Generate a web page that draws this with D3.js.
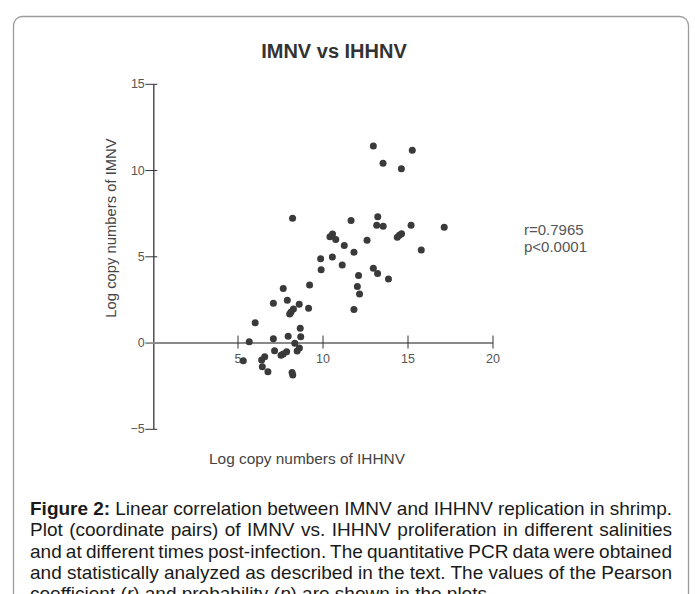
<!DOCTYPE html>
<html>
<head>
<meta charset="utf-8">
<script src="https://cdn.jsdelivr.net/npm/d3@7"></script>
<style>
  html, body { margin: 0; padding: 0; background: #fff; }
  body { width: 695px; height: 594px; overflow: hidden; position: relative; font-family: "Liberation Sans", Arial, sans-serif; }
  svg { position: absolute; left: 0; top: 0; }
  #caption { position: absolute; left: 30px; top: 498px; width: 642px; font-size: 19px; line-height: 21.3px; color: #1a1a1a; }
  #caption .ln { white-space: nowrap; display: block; }
  #caption .ln span.inner { display: inline-block; }
</style>
</head>
<body>
<svg id="chart" width="695" height="594"></svg>
<div id="caption"></div>
<script>
// ---- data ----
const ihhnv = [12.99, 15.28, 13.56, 14.64, 8.24, 13.25, 11.68, 13.19, 13.57, 15.21,
               17.16, 14.40, 14.52, 14.65, 12.62, 11.28, 15.81, 10.44, 10.59, 10.78,
               11.85, 9.89, 10.58, 11.16, 9.92, 12.99, 13.24, 13.88, 12.12, 12.05,
               12.18, 9.24, 7.69, 7.11, 7.93, 8.63, 8.29, 8.15, 8.07, 9.18,
               11.85, 6.04, 8.69, 8.72, 7.98, 7.11, 5.69, 8.37, 7.18, 8.64,
               8.51, 7.89, 7.69, 7.56, 6.60, 6.42, 5.34, 6.46, 6.79, 8.21, 8.25];
const imnv = [11.40, 11.15, 10.39, 10.08, 7.21, 7.30, 7.08, 6.80, 6.74, 6.80,
              6.68, 6.10, 6.22, 6.31, 5.93, 5.62, 5.37, 6.14, 6.30, 5.98,
              5.23, 4.86, 4.96, 4.50, 4.22, 4.31, 4.01, 3.69, 3.88, 3.25,
              2.82, 3.34, 3.14, 2.28, 2.45, 2.22, 1.95, 1.77, 1.65, 1.99,
              1.92, 1.15, 0.83, 0.34, 0.37, 0.22, 0.05, -0.04, -0.48, -0.32,
              -0.49, -0.53, -0.67, -0.74, -0.83, -1.01, -1.05, -1.41, -1.69, -1.73, -1.88];
const xTicks = [5, 10, 15, 20];
const yTicks = [-5, 0, 5, 10, 15];
const xDomain = [0, 20];
const yDomain = [-5, 15];
const titleText = "IMNV vs IHHNV";
const xLabel = "Log copy numbers of IHHNV";
const yLabel = "Log copy numbers of IMNV";
const statLines = ["r=0.7965", "p<0.0001"];
const captionLines = [
  [{b: "Figure 2:"}, {t: " Linear correlation between IMNV and IHHNV replication in shrimp."}],
  [{t: "Plot (coordinate pairs) of IMNV vs. IHHNV proliferation in different salinities"}],
  [{t: "and at different times post-infection. The quantitative PCR data were obtained"}],
  [{t: "and statistically analyzed as described in the text. The values of the Pearson"}],
  [{t: "coefficient ("}, {i: "r"}, {t: ") and probability ("}, {i: "p"}, {t: ") are shown in the plots."}]
];

// ---- drawing ----
const svg = d3.select("#chart");

// card frame
svg.append("rect")
  .attr("x", 13.5).attr("y", 16.5)
  .attr("width", 675).attr("height", 640)
  .attr("rx", 9).attr("ry", 9)
  .attr("fill", "none").attr("stroke", "#9a9a9a").attr("stroke-width", 1.3);

const x = d3.scaleLinear().domain(xDomain).range([152.5, 492.5]);
const y = d3.scaleLinear().domain(yDomain).range([428.8, 83.8]);

// title
svg.append("text")
  .attr("x", 334).attr("y", 57.5)
  .attr("text-anchor", "middle")
  .attr("font-family", "Liberation Sans, Arial, sans-serif")
  .attr("font-weight", "bold").attr("font-size", 20)
  .attr("fill", "#333")
  .text(titleText);

// y axis
const yAxis = svg.append("g")
  .attr("transform", `translate(${x(0) + 0.8},0)`)
  .call(d3.axisLeft(y).tickValues(yTicks).tickSize(8).tickSizeOuter(0).tickPadding(1));
yAxis.select(".domain").attr("stroke", "#444").attr("stroke-width", 1.4);
yAxis.selectAll(".tick line").attr("stroke", "#333").attr("x2", -8).attr("x1", 4).attr("stroke-width", 1);
yAxis.selectAll(".tick text")
  .attr("font-family", "Liberation Sans, Arial, sans-serif")
  .attr("font-size", 12.5).attr("fill", "#555").attr("x", -8.5);

// x axis at y = 0
const xAxis = svg.append("g")
  .attr("transform", `translate(0,${y(0)})`)
  .call(d3.axisBottom(x).tickValues(xTicks).tickSize(6).tickSizeOuter(0));
xAxis.select(".domain").attr("stroke", "#8a8a8a").attr("stroke-width", 2);
xAxis.selectAll(".tick line").attr("stroke", "#333").attr("y1", -7).attr("y2", 6).attr("stroke-width", 1);
xAxis.selectAll(".tick text")
  .attr("font-family", "Liberation Sans, Arial, sans-serif")
  .attr("font-size", 12.5).attr("fill", "#555")
  .attr("y", 20).attr("dy", 0);

// points
svg.append("g").selectAll("circle")
  .data(ihhnv.map((v, i) => [v, imnv[i]]))
  .join("circle")
  .attr("cx", d => x(d[0]))
  .attr("cy", d => y(d[1]))
  .attr("r", 3.5)
  .attr("fill", "#3a3a3a");

// axis labels
svg.append("text")
  .attr("x", 307).attr("y", 464)
  .attr("text-anchor", "middle")
  .attr("font-family", "Liberation Sans, Arial, sans-serif")
  .attr("font-size", 15.4).attr("fill", "#444")
  .text(xLabel);

svg.append("text")
  .attr("transform", "translate(115.5,228) rotate(-90)")
  .attr("text-anchor", "middle")
  .attr("font-family", "Liberation Sans, Arial, sans-serif")
  .attr("font-size", 14.8).attr("fill", "#444")
  .text(yLabel);

// stats annotation
svg.append("g").selectAll("text")
  .data(statLines)
  .join("text")
  .attr("x", 524).attr("y", (d, i) => 235 + i * 16.5)
  .attr("font-family", "Liberation Sans, Arial, sans-serif")
  .attr("font-size", 15).attr("fill", "#555")
  .text(d => d);

// caption (justified lines)
const cap = d3.select("#caption");
captionLines.forEach((parts, li) => {
  const line = cap.append("div").attr("class", "ln");
  const inner = line.append("span").attr("class", "inner");
  parts.forEach(p => {
    if (p.b) inner.append("b").text(p.b);
    else if (p.i) inner.append("i").text(p.i);
    else inner.append("span").text(p.t);
  });
  if (li < captionLines.length - 1) {
    const w = inner.node().getBoundingClientRect().width;
    const text = inner.node().textContent;
    const spaces = (text.match(/ /g) || []).length;
    if (spaces > 0) inner.style("word-spacing", ((642 - w) / spaces) + "px");
  }
});
</script>
</body>
</html>
